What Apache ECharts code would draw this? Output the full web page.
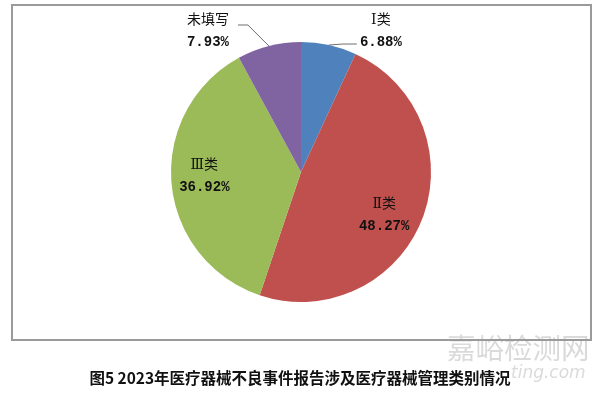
<!DOCTYPE html>
<html><head><meta charset="utf-8">
<script src="https://cdn.jsdelivr.net/npm/echarts@6/dist/echarts.min.js"></script>
<style>html,body{margin:0;padding:0;background:#fff}#c{width:600px;height:393px}</style>
</head><body><div id="c"></div>
<script>
const categories = ['Ⅰ类', 'Ⅱ类', 'Ⅲ类', '未填写'];
const percents = [6.88, 48.27, 36.92, 7.93];
const colors = ['#4F81BD', '#C0504D', '#9BBB59', '#8064A2'];
const outsideLabel = [true, false, false, true];
const captionText = '图5 2023年医疗器械不良事件报告涉及医疗器械管理类别情况';

const nameFont = "'DejaVu Serif','Noto Sans CJK SC',serif";
const numFont = "'Liberation Mono','DejaVu Sans Mono',monospace";
const chart = echarts.init(document.getElementById('c'), null, {renderer: 'canvas'});

const fmt = (i) => '{n|' + categories[i] + '}\n{p|' + percents[i].toFixed(2) + '%}';

const baseData = categories.map((c, i) => ({
  name: c, value: percents[i],
  itemStyle: {color: colors[i]},
  label: outsideLabel[i] ? {show: true, position: 'outside', formatter: fmt(i)} : {show: false},
  labelLine: {show: outsideLabel[i], length: 15, length2: 15}
}));

const innerData = categories.map((c, i) => ({
  name: c, value: percents[i],
  itemStyle: {color: 'rgba(0,0,0,0)'},
  label: outsideLabel[i] ? {show: false} : {show: true, position: 'inside', formatter: fmt(i)},
  labelLine: {show: false}
}));

const rich = {
  n: {fontFamily: nameFont, fontSize: 14, color: '#111', lineHeight: 22, align: 'center', width: 56},
  p: {fontFamily: numFont, fontSize: 14, fontWeight: 'bold', color: '#111', lineHeight: 22, align: 'center', width: 56}
};

chart.setOption({
  animation: false,
  backgroundColor: '#fff',
  title: {
    text: captionText, left: 'center', top: 365,
    textStyle: {fontFamily: "'Noto Sans CJK SC',sans-serif", fontSize: 15.5, fontWeight: 'bold', color: '#111'}
  },
  graphic: [
    {type: 'rect', shape: {x: 12, y: 5, width: 579, height: 335}, style: {fill: 'none', stroke: '#9a9a9a', lineWidth: 2}, z: -1},
    {type: 'text', left: 447, top: 334, style: {text: '嘉峪检测网', fontSize: 28.5, fontFamily: "'Noto Sans CJK SC',sans-serif", fill: '#dadada'}, z: -2},
    {type: 'text', left: 511, top: 365, style: {text: 'ting.com', fontSize: 17, fontStyle: 'italic', fontFamily: "'DejaVu Sans',sans-serif", fill: '#dadada'}, z: -2}
  ],
  series: [
    {
      type: 'pie', center: [301, 172], radius: [0, 130], startAngle: 90, clockwise: true,
      silent: true,
      label: {rich: rich, color: '#111'},
      labelLine: {lineStyle: {color: '#6f6f6f', width: 1}, smooth: false},
      itemStyle: {borderWidth: 0},
      labelLayout: function (p) {
        const pts = p.labelLinePoints;
        if (!pts) return {};
        const e = pts[0];
        if (p.dataIndex === 0) {
          return {
            x: e[0] + 52, y: e[1] - 14, align: 'center', verticalAlign: 'middle',
            labelLinePoints: [e, [e[0] + 14, e[1] - 1], [e[0] + 28, e[1] - 1]]
          };
        }
        return {
          x: e[0] - 61, y: e[1] - 15, align: 'center', verticalAlign: 'middle',
          labelLinePoints: [e, [e[0] - 21, e[1] - 21], [e[0] - 31, e[1] - 21]]
        };
      },
      data: baseData
    },
    {
      type: 'pie', center: [301, 172], radius: [58, 130], startAngle: 90, clockwise: true,
      silent: true, z: 5,
      label: {rich: rich, color: '#111'},
      labelLayout: function (p) {
        return p.dataIndex === 1 ? {dx: -7, dy: 8} : {dx: 0, dy: -4};
      },
      itemStyle: {borderWidth: 0},
      data: innerData
    }
  ]
});
</script></body></html>
